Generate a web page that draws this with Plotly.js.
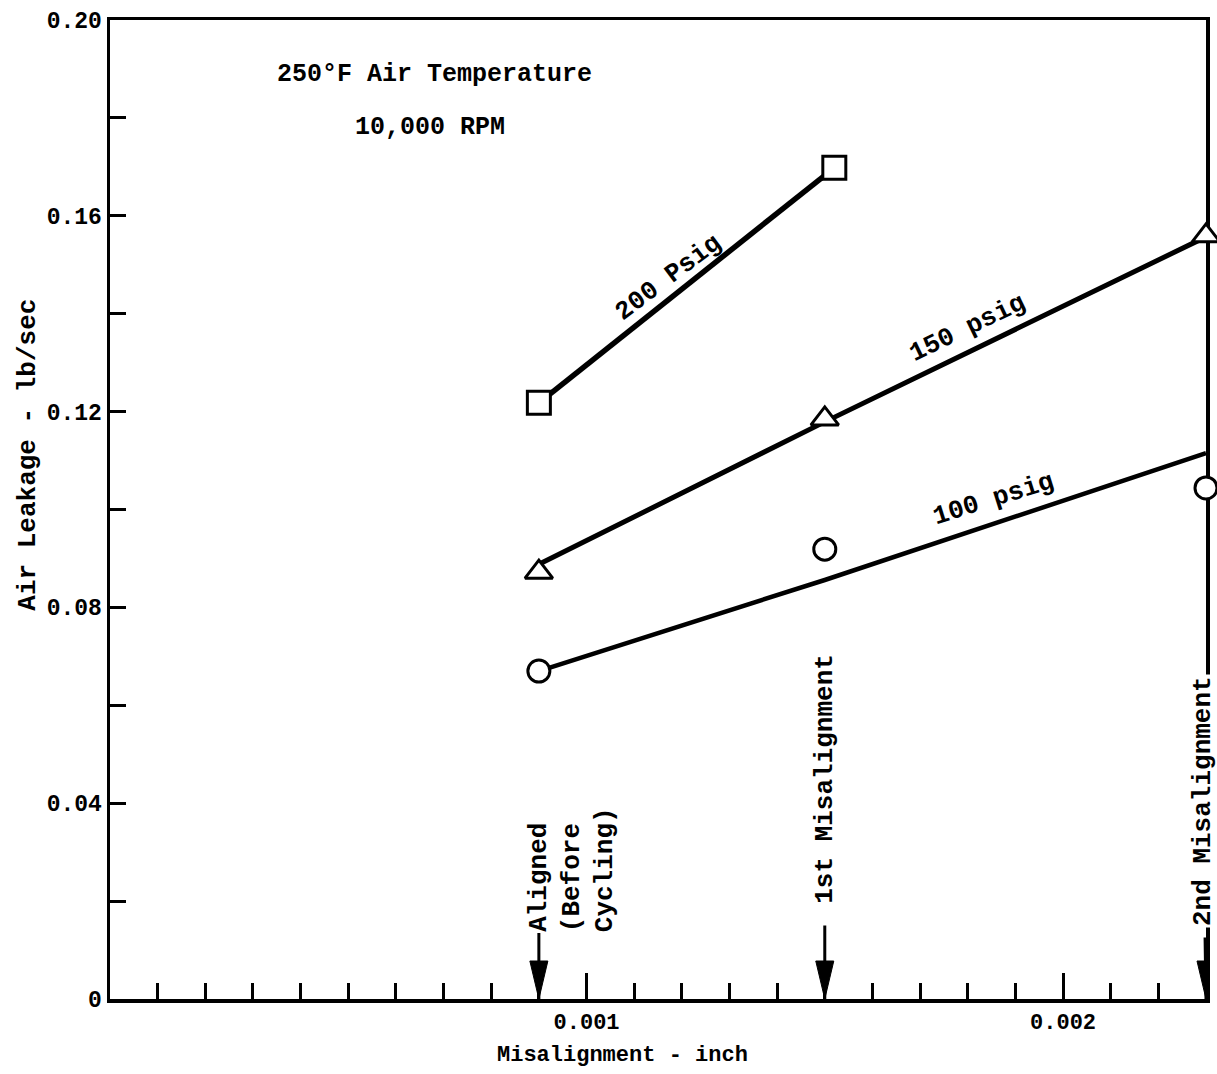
<!DOCTYPE html>
<html>
<head>
<meta charset="utf-8">
<script src="https://cdn.plot.ly/plotly-3.0.1.min.js"></script>
<style>html,body{margin:0;padding:0;background:#fff;}#chart{width:1217px;height:1074px;}</style>
</head>
<body>
<div id="chart"></div>
<script>
// ---- data ----
const stageNames = ["Aligned", "1st Misalignment", "2nd Misalignment"];
const stageX = [0.0009, 0.0015, 0.0023];          // misalignment, inch
const psi200X = [0.0009, 0.00152];
const psi200Y = [0.1218, 0.1698];                 // lb/sec, squares
const psi150Y = [0.0872, 0.1185, 0.1559];         // triangles
const psi100Y = [0.0670, 0.0919, 0.1044];         // circles
const fit150Y = [0.0888, 0.1179, 0.1557];         // faired line, 150 psig
const fit100Y = [0.0670, 0.0856, 0.1115];         // faired line, 100 psig
const xTickVals = [0.001, 0.002];
const xTickText = ["0.001", "0.002"];
const yTickVals = [0, 0.04, 0.08, 0.12, 0.16, 0.20];
const yTickText = ["0", "0.04", "0.08", "0.12", "0.16", "0.20"];

const FONT = "Liberation Mono, Courier New, monospace";
const mk = (sym, size) => ({symbol: sym, size: size, color: "white", line: {color: "black", width: 3}});

const traces = [
  {x: psi200X, y: psi200Y, mode: "lines", line: {color: "black", width: 5.5}, hoverinfo: "skip"},
  {x: stageX, y: fit150Y, mode: "lines", line: {color: "black", width: 5}, hoverinfo: "skip"},
  {x: stageX, y: fit100Y, mode: "lines", line: {color: "black", width: 4.5}, hoverinfo: "skip"},
  {x: psi200X, y: psi200Y, mode: "markers", marker: mk("square", 23), cliponaxis: false, name: "200 Psig"},
  {x: stageX, y: psi150Y, mode: "markers", marker: mk("triangle-up", 24), cliponaxis: false, name: "150 psig"},
  {x: stageX, y: psi100Y, mode: "markers", marker: mk("circle", 22), cliponaxis: false, name: "100 psig"}
];

const tf = (s) => ({family: FONT, size: s, color: "black", weight: "bold"});
const C = {xanchor: "center", yanchor: "middle"};
const annotations = [
  Object.assign({x: 0.000682, y: 0.1888, xref: "x", yref: "y", text: "250°F Air Temperature", showarrow: false, font: tf(25)}, C),
  Object.assign({x: 0.000672, y: 0.1780, xref: "x", yref: "y", text: "10,000 RPM", showarrow: false, font: tf(25)}, C),
  Object.assign({x: 0.001171, y: 0.1473, xref: "x", yref: "y", text: "200 Psig", showarrow: false, textangle: -37, font: tf(26)}, C),
  Object.assign({x: 0.00180, y: 0.1371, xref: "x", yref: "y", text: "150 psig", showarrow: false, textangle: -25.6, font: tf(26)}, C),
  Object.assign({x: 0.001855, y: 0.1022, xref: "x", yref: "y", text: "100 psig", showarrow: false, textangle: -17.3, font: tf(26)}, C),
  {x: stageX[0], y: 0, xref: "x", yref: "y", text: stageNames[0], textangle: -90, showarrow: true,
   arrowhead: 0, arrowwidth: 3, arrowcolor: "black", ax: 0, ay: -122, standoff: 0, font: tf(26)},
  Object.assign({x: 0.001004, y: 0.0264, xref: "x", yref: "y", text: "(Before<br>Cycling)", textangle: -90, align: "left",
   showarrow: false, font: tf(26)}, C),
  {x: stageX[1], y: 0, xref: "x", yref: "y", text: stageNames[1], textangle: -90, showarrow: true,
   arrowhead: 0, arrowwidth: 3, arrowcolor: "black", ax: 0, ay: -220, standoff: 0, startstandoff: 20, font: tf(26)},
  {x: stageX[2], y: 0, xref: "x", yref: "y", text: stageNames[2], textangle: -90, showarrow: true,
   arrowhead: 0, arrowwidth: 3, arrowcolor: "black", ax: -3, ay: -198, standoff: 0, startstandoff: 10,
   bgcolor: "white", font: tf(26)},
  Object.assign({x: 0.468, y: -0.058, xref: "paper", yref: "paper", text: "Misalignment - inch", showarrow: false, font: tf(22)}, C),
  Object.assign({x: -0.0748, y: 0.556, xref: "paper", yref: "paper", text: "Air Leakage - lb/sec", textangle: -90, showarrow: false, font: tf(26)}, C)
];

// arrowheads at the three test stages
const shapes = stageX.map(v => ({
  type: "path", xref: "x", yref: "y", xsizemode: "pixel", ysizemode: "pixel",
  xanchor: v, yanchor: 0, path: "M-9,38 L9,38 L0,0 Z",
  fillcolor: "black", line: {color: "black", width: 1}
}));

const layout = {
  width: 1217, height: 1074,
  margin: {l: 110, r: 11, t: 20, b: 75},
  paper_bgcolor: "white", plot_bgcolor: "white",
  showlegend: false,
  xaxis: {
    range: [0, 0.0023], showgrid: false, zeroline: false,
    showline: true, mirror: true, linecolor: "black", linewidth: 3.5, layer: "below traces",
    tickmode: "array", tickvals: xTickVals, ticktext: xTickText,
    ticks: "inside", ticklen: 26, tickwidth: 3, tickcolor: "black",
    tickfont: tf(22),
    minor: {tickmode: "linear", tick0: 0, dtick: 0.0001, ticks: "inside", ticklen: 16, tickwidth: 3, tickcolor: "black", showgrid: false}
  },
  yaxis: {
    range: [0, 0.2], showgrid: false, zeroline: false,
    showline: true, mirror: true, linecolor: "black", linewidth: 3.5, layer: "below traces",
    tickmode: "array", tickvals: yTickVals, ticktext: yTickText,
    ticks: "inside", ticklen: 16, tickwidth: 3, tickcolor: "black",
    tickfont: tf(23),
    minor: {tickmode: "linear", tick0: 0, dtick: 0.02, ticks: "inside", ticklen: 16, tickwidth: 3, tickcolor: "black", showgrid: false}
  },
  annotations: annotations,
  shapes: shapes
};

Plotly.newPlot("chart", traces, layout, {displayModeBar: false, staticPlot: true});
</script>
</body>
</html>
